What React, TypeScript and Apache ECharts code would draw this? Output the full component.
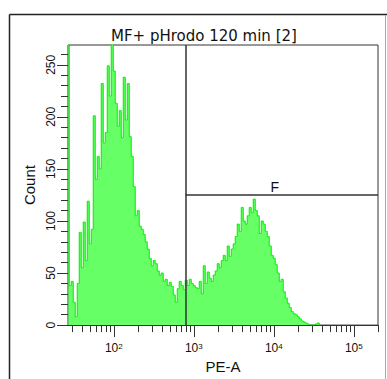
import React, { useEffect, useRef } from "react";
import * as echarts from "echarts";

const titleText = "MF+ pHrodo 120 min [2]";
const xAxisName = "PE-A";
const yAxisName = "Count";
const gateLabel = "F";

// Histogram channels: log10(PE-A) of the first channel and channel width in decades
const binStartLog = 1.43;
const binWidthLog = 0.025;
// Counts per channel
const counts = [
  300, 38, 42, 22, 8, 40, 89, 55, 99, 62,
  119, 78, 92, 201, 140, 162, 150, 232, 175, 185,
  249, 220, 272, 244, 213, 191, 206, 180, 238, 197,
  232, 181, 162, 133, 105, 110, 95, 92, 87, 80,
  73, 64, 57, 62, 59, 52, 48, 50, 42, 44,
  38, 41, 37, 29, 22, 35, 42, 38, 34, 43,
  38, 44, 40, 38, 36, 35, 42, 30, 57, 40,
  51, 45, 42, 48, 52, 59, 55, 62, 67, 62,
  76, 66, 73, 78, 85, 97, 90, 113, 100, 97,
  105, 113, 108, 121, 110, 105, 88, 100, 97, 90,
  85, 76, 67, 64, 58, 50, 42, 44, 32, 26,
  21, 17, 13, 11, 10, 8, 6, 4, 3, 2,
  1, 0, 0, 0, 1, 2, 0,
];

const xMinLog = 1.427;
const xMaxLog = 5.302;
const yMax = 269;
const yMajorTicks = [0, 50, 100, 150, 200, 250];
const yMinorTicks = [
  10, 20, 30, 40, 60, 70, 80, 90, 110, 120, 130, 140, 160, 170, 180, 190,
  210, 220, 230, 240, 260,
];
const xMajorDecades = [2, 3, 4, 5];
const xMinorTickValues = [
  30, 40, 50, 60, 70, 80, 90,
  200, 300, 400, 500, 600, 700, 800, 900,
  2000, 3000, 4000, 5000, 6000, 7000, 8000, 9000,
  20000, 30000, 40000, 50000, 60000, 70000, 80000, 90000,
  200000,
];
const gateXValue = 790; // PE-A
const gateYValue = 125; // Count
const gateLabelXValue = 10250;

const FONT = "Liberation Sans, Arial, sans-serif";
const TITLE_FONT = "DejaVu Sans, Verdana, sans-serif";

export default function App() {
  const ref = useRef<HTMLDivElement>(null);

  useEffect(() => {
    if (!ref.current) return;
    const chart = echarts.init(ref.current, null, { renderer: "svg" });
    const data = counts.map((c, i) => [binStartLog + i * binWidthLog, c]);
    const gateLog = Math.log10(gateXValue);

    const option: any = {
      animation: false,
      textStyle: { fontFamily: FONT },
      title: {
        text: titleText,
        left: 111,
        top: 28,
        padding: 0,
        textStyle: { fontSize: 15, fontWeight: "normal", color: "#111", fontFamily: TITLE_FONT },
      },
      grid: {
        left: 68,
        right: 9,
        top: 45,
        bottom: 52,
        show: true,
        borderColor: "#333",
        borderWidth: 1,
        backgroundColor: "transparent",
      },
      xAxis: [
        {
          type: "value",
          position: "bottom",
          min: xMinLog,
          max: xMaxLog,
          name: xAxisName,
          nameLocation: "middle",
          nameGap: 33,
          nameTextStyle: { fontSize: 15, color: "#111", fontFamily: FONT },
          axisLine: { show: true, lineStyle: { color: "#333", width: 1 } },
          axisTick: {
            show: true,
            customValues: xMajorDecades,
            length: 12,
            lineStyle: { color: "#333" },
          },
          axisLabel: {
            customValues: xMajorDecades,
            margin: 17,
            formatter: (v: number) => `{b|10}{s|${Math.round(v)}}`,
            rich: {
              b: { fontSize: 12, color: "#111", fontFamily: FONT },
              s: { fontSize: 8, color: "#111", fontFamily: FONT, verticalAlign: "top", padding: [0, 0, 3, 0] },
            },
          },
          splitLine: { show: false },
        },
        {
          type: "value",
          position: "bottom",
          min: xMinLog,
          max: xMaxLog,
          axisLine: { show: false },
          axisTick: {
            show: true,
            customValues: xMinorTickValues.map((v) => Math.log10(v)),
            length: 7,
            lineStyle: { color: "#333" },
          },
          axisLabel: { show: false },
          splitLine: { show: false },
        },
      ],
      yAxis: [
        {
          type: "value",
          position: "left",
          min: 0,
          max: yMax,
          name: yAxisName,
          nameLocation: "middle",
          nameGap: 26,
          nameTextStyle: { fontSize: 15, color: "#111", fontFamily: FONT },
          axisLine: { show: true, lineStyle: { color: "#333", width: 1 } },
          axisTick: {
            show: true,
            customValues: yMajorTicks,
            length: 11,
            lineStyle: { color: "#333" },
          },
          axisLabel: {
            customValues: yMajorTicks,
            rotate: 90,
            margin: 11,
            fontSize: 12,
            color: "#111",
            fontFamily: FONT,
          },
          splitLine: { show: false },
        },
        {
          type: "value",
          position: "left",
          min: 0,
          max: yMax,
          axisLine: { show: false },
          axisTick: {
            show: true,
            customValues: yMinorTicks,
            length: 7,
            lineStyle: { color: "#333" },
          },
          axisLabel: { show: false },
          splitLine: { show: false },
        },
      ],
      graphic: [
        {
          type: "line",
          shape: { x1: 9.5, y1: 14.5, x2: 387, y2: 14.5 },
          style: { stroke: "#222", lineWidth: 1.5 },
        },
        {
          type: "line",
          shape: { x1: 9.5, y1: 14.5, x2: 9.5, y2: 379 },
          style: { stroke: "#222", lineWidth: 1.5 },
        },
        {
          type: "line",
          shape: { x1: 385.5, y1: 15, x2: 385.5, y2: 379 },
          style: { stroke: "#aaa", lineWidth: 1 },
        },
      ],
      series: [
        {
          type: "line",
          xAxisIndex: 0,
          yAxisIndex: 0,
          data,
          step: "middle",
          symbol: "none",
          clip: true,
          lineStyle: { color: "#00ee00", width: 1 },
          areaStyle: { color: "#66ff66", opacity: 1 },
          markLine: {
            silent: true,
            symbol: "none",
            label: { show: false },
            lineStyle: { color: "#333", width: 1.5, type: "solid" },
            data: [
              [{ coord: [gateLog, 0] }, { coord: [gateLog, yMax] }],
              [{ coord: [gateLog, gateYValue] }, { coord: [xMaxLog, gateYValue] }],
            ],
          },
          markPoint: {
            silent: true,
            symbol: "circle",
            symbolSize: 0,
            label: {
              show: true,
              formatter: gateLabel,
              position: "top",
              distance: 1,
              fontSize: 14,
              color: "#111",
              fontFamily: FONT,
            },
            data: [{ coord: [Math.log10(gateLabelXValue), gateYValue] }],
          },
        },
      ],
    };

    chart.setOption(option);
    return () => chart.dispose();
  }, []);

  return (
    <div
      ref={ref}
      style={{ position: "fixed", left: 0, top: 0, width: 387, height: 379, background: "#fff" }}
    />
  );
}
